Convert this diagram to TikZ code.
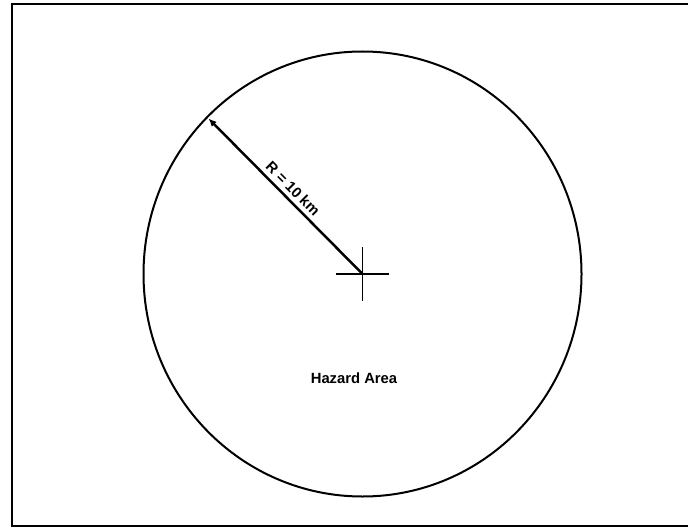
\documentclass[tikz,border=0pt]{standalone}
\usepackage{fontspec}
\setmainfont{Liberation Sans}
\usepackage{tikz}
\usetikzlibrary{arrows.meta, calc}

\begin{document}
\begin{tikzpicture}[
  x=0.5pt, y=-0.5pt,
  font=\bfseries\fontsize{7.4}{8.5}\selectfont,
  frameline/.style={line width=1pt},
  zone/.style={line width=1pt},
  radius line/.style={line width=1.25pt, {Latex[length=4pt, width=3.5pt]}-},
  crossline/.style={line width=0.9pt},
]
  % Page size: 688 x 529 px, coordinates in px
  \useasboundingbox (0,0) rectangle (688,529);

  % Frame (open at the right)
  \draw[frameline] (688,4.5) -- (12,4.5) -- (12,525.5) -- (688,525.5);

  % Hazard zone round the centre
  \coordinate (c) at (362.5,274);
  \draw[zone] (c) ellipse [x radius=219, y radius=222.5];

  % Centre mark
  \draw[crossline] ($(c)+(-26.5,0)$) -- ($(c)+(26.5,0)$);
  \draw[crossline] ($(c)+(0,-27)$) -- ($(c)+(0,27)$);

  % Radius
  \coordinate (tip) at ($(c)+(-154,-155.5)$);
  \draw[radius line] (tip) -- node[sloped, above, pos=0.5, inner sep=2pt] {R = 10 km} (c);

  % Label
  \node (area) at (354,378.5) {Hazard Area};
\end{tikzpicture}
\end{document}
